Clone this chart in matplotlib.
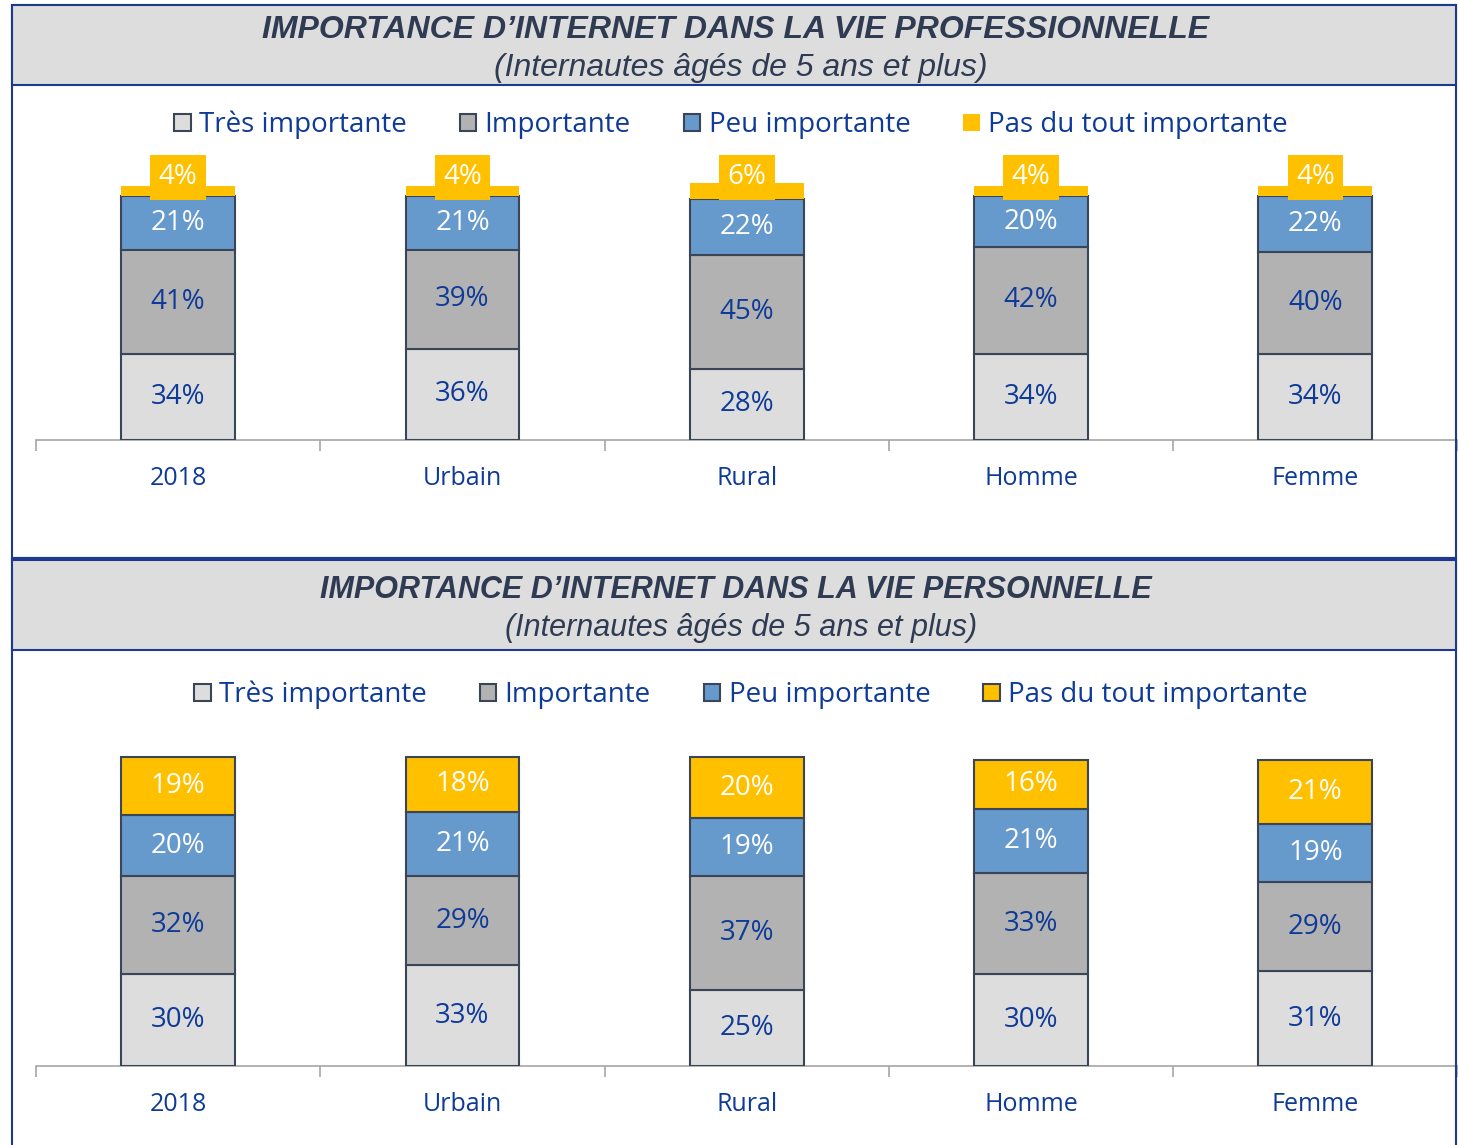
import matplotlib
matplotlib.use("Agg")
import matplotlib.pyplot as plt
from matplotlib.patches import Rectangle, Patch
import numpy as np

# ---------------- data ----------------
categories = ["2018", "Urbain", "Rural", "Homme", "Femme"]
series_names = ["Très importante", "Importante", "Peu importante", "Pas du tout importante"]

pro_tres = [34, 36, 28, 34, 34]
pro_imp = [41, 39, 45, 42, 40]
pro_peu = [21, 21, 22, 20, 22]
pro_pas = [4, 4, 6, 4, 4]

perso_tres = [30, 33, 25, 30, 31]
perso_imp = [32, 29, 37, 33, 29]
perso_peu = [20, 21, 19, 21, 19]
perso_pas = [19, 18, 20, 16, 21]

title_pro = "IMPORTANCE D\u2019INTERNET DANS LA VIE PROFESSIONNELLE"
title_perso = "IMPORTANCE D\u2019INTERNET DANS LA VIE PERSONNELLE"
subtitle = "(Internautes âgés de 5 ans et plus)"

# ---------------- style ----------------
W, H = 1458, 1145
FONT = "Open Sans"
DARK = "#0E3A98"
TITLE_C = "#2F3B52"
FRAME = "#1F3A8C"
EDGE = "#3A4658"
COLORS = ["#DDDDDD", "#B2B2B2", "#6699CC", "#FFC000"]
LBL_COLORS = [DARK, DARK, "white", "white"]

fig = plt.figure(figsize=(W / 100, H / 100), dpi=100)


def fx(x):
    return x / W


def fy(y):
    return 1 - y / H


def rect(x0, y0, x1, y1, **kw):
    fig.add_artist(Rectangle((fx(x0), fy(y1)), (x1 - x0) / W, (y1 - y0) / H,
                             transform=fig.transFigure, **kw))


# frames
rect(12, 5, 1456, 558, fill=False, ec=FRAME, lw=1.5)
rect(12, 5, 1456, 85, fc="#DDDDDD", ec=FRAME, lw=1.5)
rect(12, 558, 1456, 1160, fill=False, ec=FRAME, lw=1.5)
rect(12, 560, 1456, 650, fc="#DDDDDD", ec=FRAME, lw=1.5)

for ty, sy, t, fs in [(27, 65, title_pro, 23), (587, 625, title_perso, 22)]:
    fig.text(fx(736), fy(ty + 3), t, ha="center", va="center", fontsize=fs,
             fontweight="bold", fontstyle="italic", family="Liberation Sans", color=TITLE_C)
    fig.text(fx(741), fy(sy + 3), subtitle, ha="center", va="center", fontsize=fs,
             fontstyle="italic", family="Liberation Sans", color=TITLE_C)


def draw(ax, series, ymax, yellow_edge, legend_xy):
    x = np.arange(len(categories))
    bottom = np.zeros(len(categories))
    for i, (vals, col) in enumerate(zip(series, COLORS)):
        vals = np.array(vals, dtype=float)
        is_top_small = (i == 3 and not yellow_edge)
        ax.bar(x, vals, 0.4, bottom=bottom, color=col,
               edgecolor=("none" if is_top_small else EDGE), linewidth=1.5, zorder=3)
        for xi, v, b in zip(x, vals, bottom):
            if is_top_small:
                ax.annotate(f"{int(v)}%", (xi, b + v / 2), xytext=(0, 10),
                            textcoords="offset points", ha="center", va="center",
                            fontsize=20, family=FONT, color="white", zorder=5,
                            bbox=dict(boxstyle="square,pad=0.3", fc=COLORS[3], ec="none"))
            else:
                ax.text(xi, b + v / 2, f"{int(v)}%", ha="center", va="center",
                        fontsize=20, family=FONT, color=LBL_COLORS[i], zorder=5)
        bottom += vals
    ax.set_xlim(-0.5, len(categories) - 0.5)
    ax.set_ylim(0, ymax)
    for s in ["top", "left", "right"]:
        ax.spines[s].set_visible(False)
    ax.spines["bottom"].set_color("#A6A6A6")
    ax.spines["bottom"].set_linewidth(1.2)
    ax.set_yticks([])
    ax.set_xticks(np.arange(-0.5, len(categories)), [])
    ax.tick_params(axis="x", which="major", length=8, color="#A6A6A6", width=1.2)
    ax.set_xticks(x, categories, minor=True)
    ax.tick_params(axis="x", which="minor", length=0, pad=19, labelsize=18,
                   labelcolor=DARK)
    for lab in ax.get_xticklabels(minor=True):
        lab.set_family(FONT)
    handles = []
    for i, col in enumerate(COLORS):
        ec = "none" if (i == 3 and not yellow_edge) else EDGE
        handles.append(Patch(fc=col, ec=ec, lw=1.5))
    leg = fig.legend(handles, series_names, loc="center",
                     bbox_to_anchor=(fx(legend_xy[0]), fy(legend_xy[1])),
                     bbox_transform=fig.transFigure, ncol=4, frameon=False,
                     prop={"family": FONT, "size": 20}, handlelength=0.6,
                     handleheight=0.6, handletextpad=0.3, columnspacing=1.9)
    for t in leg.get_texts():
        t.set_color(DARK)


ax1 = fig.add_axes([fx(36), fy(440), (1457.5 - 36) / W, 120 * 2.54 / H])
draw(ax1, [pro_tres, pro_imp, pro_peu, pro_pas], 120, False, (731, 125))

ax2 = fig.add_axes([fx(36), fy(1066), (1457.5 - 36) / W, 110 * 3.06 / H])
draw(ax2, [perso_tres, perso_imp, perso_peu, perso_pas], 110, True, (751, 695))

fig.savefig("out.png", dpi=100)
